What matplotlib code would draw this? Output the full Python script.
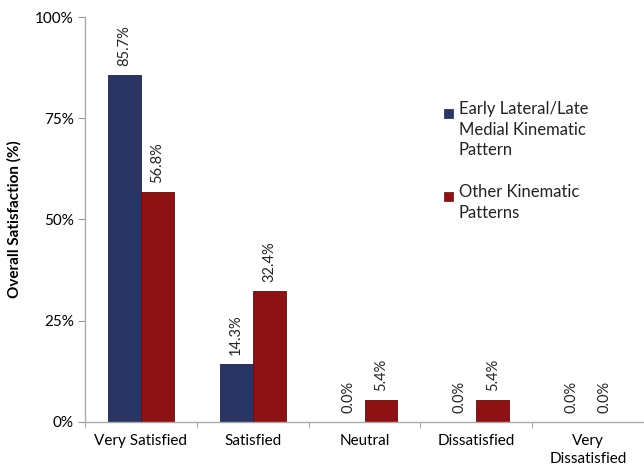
import numpy as np
import matplotlib.pyplot as plt
from matplotlib.patches import Rectangle

plt.rcParams['font.family'] = ['Lato', 'DejaVu Sans']

categories = ['Very Satisfied', 'Satisfied', 'Neutral', 'Dissatisfied', 'Very\nDissatisfied']
early_lateral = [85.7, 14.3, 0.0, 0.0, 0.0]
other_patterns = [56.8, 32.4, 5.4, 5.4, 0.0]
series_names = ['Early Lateral/Late\nMedial Kinematic\nPattern', 'Other Kinematic\nPatterns']
colors = ['#2a3566', '#8c1214']
edges = ['#1c2447', '#5e0c0d']

fig = plt.figure(figsize=(6.44, 4.74), dpi=100)
ax = fig.add_axes([0.132, 0.110, 0.868, 0.854])

x = np.arange(len(categories))
w = 0.295
b1 = ax.bar(x - w / 2, early_lateral, w, color=colors[0], edgecolor=edges[0], linewidth=0.6)
b2 = ax.bar(x + w / 2, other_patterns, w, color=colors[1], edgecolor=edges[1], linewidth=0.6)

for bars, vals in ((b1, early_lateral), (b2, other_patterns)):
    for rect, v in zip(bars, vals):
        ax.text(rect.get_x() + rect.get_width() / 2, v + 2.2, f'{v:.1f}%',
                rotation=90, ha='center', va='bottom', fontsize=10.5, color='#222222')

ax.set_xlim(-0.5, len(categories) - 0.5)
ax.set_ylim(0, 100)
ax.set_yticks([0, 25, 50, 75, 100])
ax.set_yticklabels(['0%', '25%', '50%', '75%', '100%'], fontsize=11)
ax.set_xticks(x)
ax.set_xticklabels(categories, fontsize=11, linespacing=1.3)
ax.set_xticks(np.arange(len(categories) + 1) - 0.5, minor=True)
ax.tick_params(axis='x', which='major', length=0, pad=9)
ax.tick_params(axis='x', which='minor', length=4, color='#999999', direction='out')
ax.tick_params(axis='y', length=5, color='#999999', direction='out', pad=3)
ax.set_ylabel('Overall Satisfaction (%)', fontsize=11, fontweight='bold', labelpad=10)

for side in ('top', 'right'):
    ax.spines[side].set_visible(False)
for side in ('left', 'bottom'):
    ax.spines[side].set_color('#aaaaaa')
    ax.spines[side].set_linewidth(1.0)

# legend drawn by hand so the swatch sits next to the first line of each label
W, H = 644, 474
for name, c, e, ytop in zip(series_names, colors, edges, [113, 196]):
    fig.patches.append(Rectangle((444 / W, 1 - (ytop + 4.5) / H), 9 / W, 9 / H,
                                 transform=fig.transFigure, facecolor=c, edgecolor=e,
                                 linewidth=0.5))
    fig.text(459 / W, 1 - (ytop - 12) / H, name, fontsize=12, va='top', ha='left',
             linespacing=1.35, color='#222222')

fig.savefig('out.png', dpi=100)
